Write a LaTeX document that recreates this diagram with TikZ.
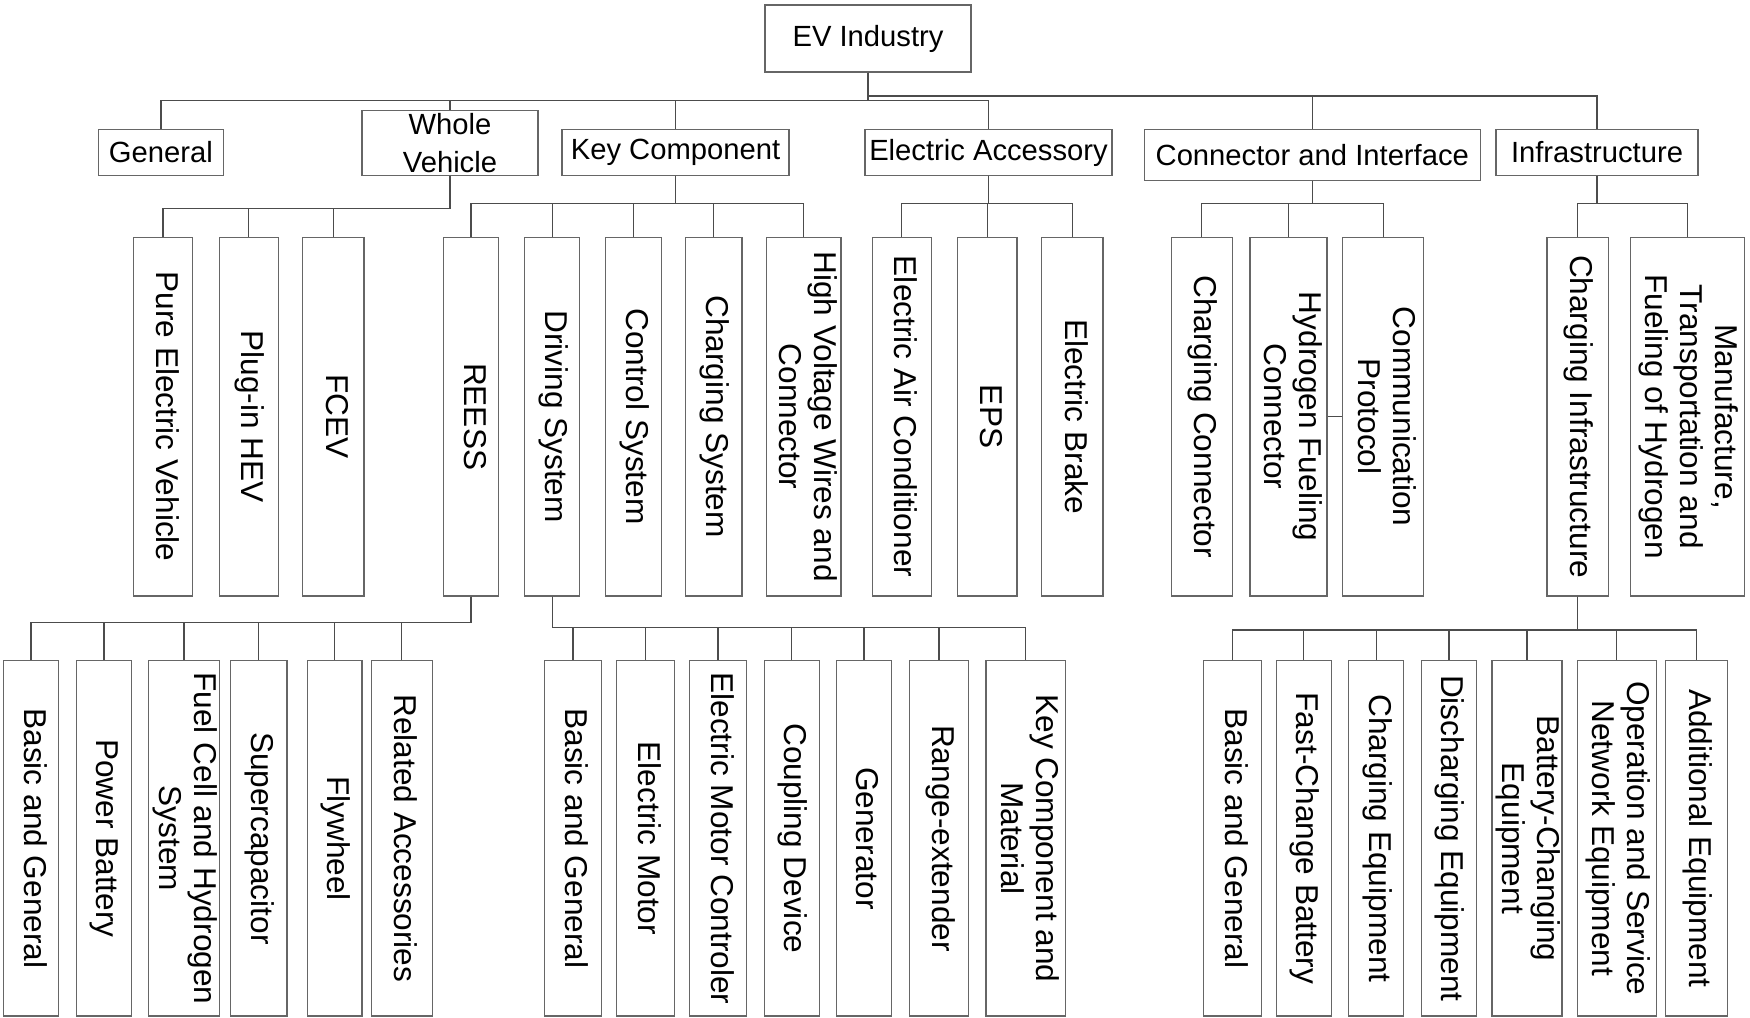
\documentclass[tikz,border=0pt]{standalone}
\usepackage{fontspec}
\setmainfont{Liberation Sans}
\newcommand\vtext[1]{\rotatebox{-90}{\begin{tabular}{@{}c@{}}#1\end{tabular}}}
\tikzset{
  box/.style={draw=black!60,line width=.6pt,inner sep=0pt,fill=white},
  catbox/.style={box,align=center,font=\fontsize{14.6}{19}\selectfont},
  leafbox/.style={box,font=\fontsize{15.8}{17.5}\selectfont},
  wire/.style={draw=black!70,line width=.65pt},
}
\begin{document}
\begin{tikzpicture}[x=.5pt,y=-.5pt]
\useasboundingbox (0,0) rectangle (1750,1017);
% first two rows
\node[catbox,minimum width=103pt,minimum height=33.5pt] (ev) at (868,38.5) {EV Industry};
\node[catbox,minimum width=62.2pt,minimum height=22.8pt] (gen) at (160.9,152.5) {General};
\node[catbox,minimum width=88pt,minimum height=32.5pt] (wv) at (450,142.8) {Whole\\Vehicle};
\node[catbox,minimum width=113.5pt,minimum height=22.8pt] (kc) at (675.5,152.5) {Key Component};
\node[catbox,minimum width=123.5pt,minimum height=22.8pt] (ea) at (988.5,152.5) {Electric Accessory};
\node[catbox,minimum width=167.8pt,minimum height=25.3pt] (ci) at (1312.3,155) {Connector and Interface};
\node[catbox,minimum width=101pt,minimum height=22.8pt] (inf) at (1597,152.5) {Infrastructure};
% vertical boxes, middle row
\foreach \n/\x/\w/\t in {
  pev/163/59/Pure Electric Vehicle, phev/248.8/59/Plug-in HEV, fcev/333.4/61.3/FCEV,
  reess/471/54.7/REESS, drv/552.3/55/Driving System, ctl/633.5/55.4/Control System,
  chs/713.7/56.7/Charging System, hvw/803.8/74.5/{High Voltage Wires and\\Connector},
  eac/901.8/59/Electric Air Conditioner, eps/987.3/59.4/EPS, brk/1072.3/61.5/Electric Brake,
  chc/1201.8/61/Charging Connector, hfc/1288.5/77/{Hydrogen Fueling\\Connector},
  cpr/1383.2/81.3/{Communication\\Protocol}, chi/1577.7/61.3/Charging Infrastructure,
  mth/1687.7/114/{Manufacture,\\Transportation and\\Fueling of Hydrogen}}
  \node[leafbox,minimum width=0.5*\w pt,minimum height=179.3pt] (\n) at (\x,416.6) {\vtext{\t}};
% vertical boxes, bottom row
\foreach \n/\x/\w/\t in {
  rbg/31/55/Basic and General, rpb/103.9/54.7/Power Battery,
  rfc/184/70.5/{Fuel Cell and Hydrogen\\System}, rsc/258.7/56.5/Supercapacitor,
  rfw/334.7/54.7/Flywheel, rra/401.6/61/Related Accessories,
  dbg/572.9/57/Basic and General, dem/645.6/57.5/Electric Motor,
  dmc/718/56.8/Electric Motor Controler, dcd/791.8/55/Coupling Device,
  dgen/863.9/55/Generator, dre/939/59.3/Range-extender,
  dkc/1025.7/79.4/{Key Component and\\Material},
  ibg/1232.4/57.5/Basic and General, ifc/1303.8/55/Fast-Change Battery,
  ice/1376.2/55/Charging Equipment, ide/1448.9/55/Discharging Equipment,
  ibc/1527/66/{Battery-Changing\\Equipment}, ios/1616.8/79/{Operation and Service\\Network Equipment},
  iae/1696.2/61.8/Additional Equipment}
  \node[leafbox,minimum width=0.5*\w pt,minimum height=177.6pt] (\n) at (\x,838.4) {\vtext{\t}};
% connectors
\foreach \c in {gen,wv,kc,ea}
  \draw[wire] (ev.south) -- (ev.south |- 0,100.7) -| (\c.north);
\foreach \c in {ci,inf}
  \draw[wire] (ev.south) -- (ev.south |- 0,96) -| (\c.north);
\foreach \p/\y/\cs in {wv/208.7/{pev,phev,fcev}, kc/203.7/{reess,drv,ctl,chs,hvw},
  ea/203.7/{eac,eps,brk}, ci/203.7/{chc,hfc,cpr}, inf/203.7/{chi,mth},
  reess/622.7/{rbg,rpb,rfc,rsc,rfw,rra}, drv/627.3/{dbg,dem,dmc,dcd,dgen,dre,dkc},
  chi/630/{ibg,ifc,ice,ide,ibc,ios,iae}}
  \foreach \c in \cs
    \draw[wire] (\p.south) -- (\p.south |- 0,\y) -| (\c.north);
\draw[wire] (hfc.east) -- (cpr.west);
\end{tikzpicture}
\end{document}
